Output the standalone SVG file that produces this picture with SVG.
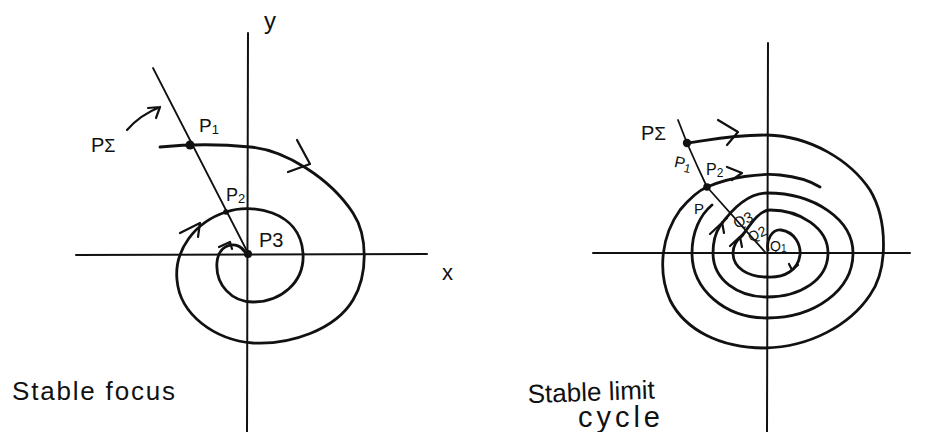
<svg xmlns="http://www.w3.org/2000/svg" width="933" height="432" viewBox="0 0 933 432">
<style>
.ax{fill:none;stroke:#111;stroke-width:2;stroke-linecap:round}
.tr{fill:none;stroke:#111;stroke-width:2.8;stroke-linecap:round;stroke-linejoin:round}
.tn{fill:none;stroke:#111;stroke-width:1.8;stroke-linecap:round;stroke-linejoin:round}
.ar{fill:none;stroke:#111;stroke-width:2.2;stroke-linecap:round;stroke-linejoin:round}
.dot{fill:#111}
text{font-family:"Liberation Sans","DejaVu Sans",sans-serif;fill:#111}
</style>
<rect width="933" height="432" fill="#fff"/>
<g id="focus">
  <g id="focus-axes">
    <path class="ax" d="M248,33 L247,432"/>
    <path class="ax" d="M76,255 L427,254"/>
    <path class="tn" d="M153,68 L248,253"/>
  </g>
  <g id="focus-trajectory">
    <path class="tr" d="M160,147 C190,144 220,144 250,147 C285,150 330,178 353,213 C368,236 368,275 353,300 C335,330 290,345 253,343 C215,340 180,315 177,280 C174,250 195,222 226,212 C250,203 300,210 303,253 C305,283 280,302 253,302 C232,302 215,285 217,262 C219,243 238,240 245,252"/>
    <path class="ar" d="M297,140 L310,164 L288,172"/>
    <path class="ar" d="M180,233 L200,223 L198,237"/>
    <path class="ar" d="M219,247 L230,242 L232,249"/>
    <path class="ar" d="M127,130 Q140,115 160,107 M148,108 L160,107 L156,118"/>
  </g>
  <g id="focus-points">
    <circle class="dot" cx="190" cy="145" r="4.5"/>
    <circle class="dot" cx="226" cy="212" r="2.8"/>
    <circle class="dot" cx="248" cy="254" r="4"/>
  </g>
  <g id="focus-labels">
    <text x="264" y="29" font-size="24">y</text>
    <text x="442" y="280" font-size="22">x</text>
    <text x="91" y="152" font-size="20">P<tspan font-size="18">Σ</tspan></text>
    <text x="199" y="132" font-size="19">P<tspan font-size="13" dy="2">1</tspan></text>
    <text x="226" y="201" font-size="18">P<tspan font-size="13" dy="2">2</tspan></text>
    <text x="259" y="247" font-size="20">P3</text>
    <text x="12" y="400" font-size="26" textLength="163" lengthAdjust="spacing">Stable focus</text>
  </g>
</g>
<g id="limit-cycle">
  <g id="cycle-axes">
    <path class="ax" d="M768,43 L767,432"/>
    <path class="ax" d="M593,253 L910,253"/>
    <path class="tn" d="M678,120 L687,143 Q697,166 707,187 L765,252"/>
  </g>
  <g id="cycle-outer-trajectory">
    <path class="tr" d="M687,143 C710,140 730,135 767,135 C810,136 850,160 870,190 C888,220 888,270 870,295 C850,325 810,347 765,348 C720,348 685,330 670,300 C657,270 662,235 680,210 C690,198 700,190 707,187 C730,177 760,173 780,175 C800,177 812,182 820,187"/>
    <path class="ar" d="M718,120 L738,132 L727,145"/>
    <path class="ar" d="M727,167 L742,173 L732,180"/>
  </g>
  <g id="cycle-inner-trajectory">
    <path class="tr" d="M768,250 C766,240 772,229 781,230 C795,232 801,245 800,255 C798,270 785,278 767,277 C748,277 733,268 733,253 C733,246 737,240 742,236 C752,222 760,210 770,210 C800,210 828,228 828,253 C828,280 800,297 767,297 C738,297 713,280 713,253 C713,240 716,232 720,226 C735,205 750,193 767,193 C815,193 853,220 853,253 C853,290 815,318 767,318 C725,318 692,290 692,253 C692,232 700,215 712,205"/>
    <path class="ar" d="M710,234 L727,218 M722,222 L724,233"/>
    <path class="ar" d="M730,246 L745,232 M740,237 L742,247"/>
    <path class="ar" d="M789,264 L792,270 L798,265"/>
  </g>
  <g id="cycle-points">
    <circle class="dot" cx="687" cy="143" r="4.2"/>
    <circle class="dot" cx="707" cy="187" r="3.8"/>
  </g>
  <g id="cycle-labels">
    <text x="641" y="140" font-size="20">P<tspan font-size="19">Σ</tspan></text>
    <text x="674" y="168" font-size="16" transform="rotate(12 680 165)">P<tspan font-size="12" dy="3">1</tspan></text>
    <text x="706" y="175" font-size="16">P<tspan font-size="12" dy="2">2</tspan></text>
    <text x="694" y="214" font-size="15">P</text>
    <text x="732" y="224" font-size="15" transform="rotate(-25 745 217)">Q3</text>
    <text x="747" y="239" font-size="14" transform="rotate(-25 756 232)">Q2</text>
    <text x="770" y="251" font-size="14">Q<tspan font-size="10" dy="1">1</tspan></text>
    <text x="528" y="403" font-size="26" transform="rotate(-2 528 403)">Stable limit</text>
    <text x="578" y="427" font-size="29" textLength="82" lengthAdjust="spacing">cycle</text>
  </g>
</g>
</svg>
